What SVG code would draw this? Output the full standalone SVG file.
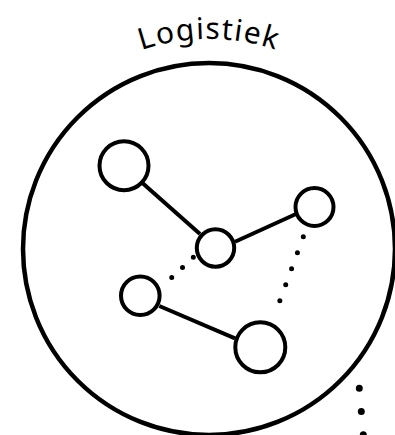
<svg xmlns="http://www.w3.org/2000/svg" width="395" height="435" viewBox="0 0 395 435">
<style>
.node{fill:#fff;stroke:#000;stroke-width:4}
.outer{fill:none;stroke:#000;stroke-width:4.5}
.edge{stroke:#000;stroke-width:4;fill:none}
.dot{stroke:#000;stroke-width:5;stroke-linecap:round;fill:none}
.bigdot{stroke:#000;stroke-width:7;stroke-linecap:round;fill:none}
.label{font-family:"Noto Sans","Open Sans",sans-serif;font-size:30px;fill:#000}
</style>
<defs>
<path id="arc" d="M27.1,144 A210,210 0 0 1 390.9,144"/>
</defs>
<rect width="395" height="435" fill="#fff"/>
<g id="logistiek">
<circle class="outer" cx="209" cy="249" r="186"/>
<text class="label" letter-spacing="1.3"><textPath href="#arc" startOffset="50%" text-anchor="middle">Logistiek</textPath></text>
</g>
<g id="connectors">
<line class="edge" x1="142.7" y1="183.3" x2="200" y2="234"/>
<line class="edge" x1="235" y1="241.7" x2="296" y2="214"/>
<line class="edge" x1="159.3" y1="306" x2="235" y2="338.3"/>
<line class="dot" x1="193.3" y1="257.3" x2="161" y2="287.7" stroke-dasharray="0 14.8"/>
<line class="dot" x1="303.3" y1="236.7" x2="274" y2="316.7" stroke-dasharray="0 17.04"/>
<line class="bigdot" x1="359.3" y1="388.3" x2="363.3" y2="434.8" stroke-dasharray="0 23.3"/>
</g>
<g id="n1"><circle class="node" cx="124" cy="165.7" r="24.5"/></g>
<g id="n2"><circle class="node" cx="215.5" cy="248" r="18.7"/></g>
<g id="n3"><circle class="node" cx="314.5" cy="207" r="19"/></g>
<g id="n4"><circle class="node" cx="140.3" cy="295.7" r="19.3"/></g>
<g id="n5"><circle class="node" cx="260.3" cy="347.3" r="25"/></g>
</svg>
